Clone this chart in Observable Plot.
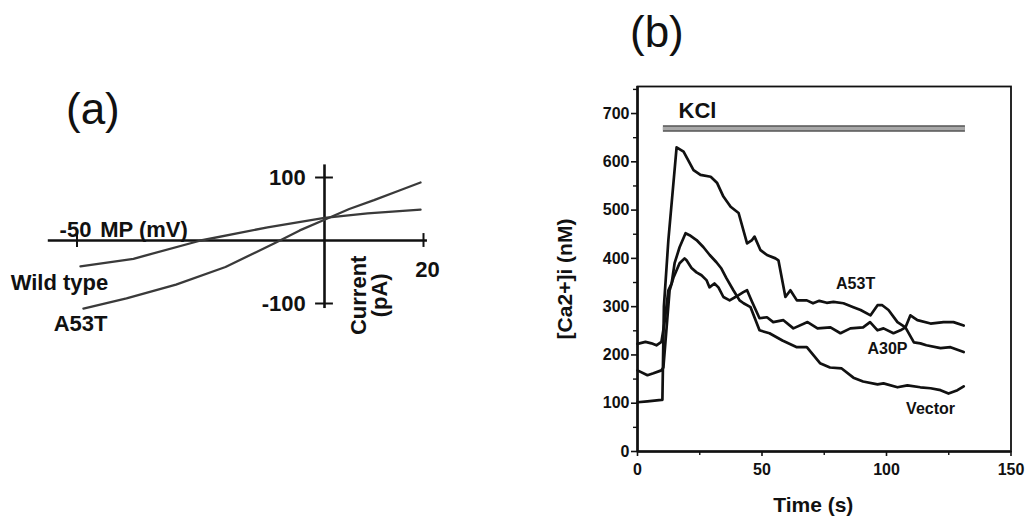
<!DOCTYPE html>
<html><head><meta charset="utf-8">
<script src="https://cdn.jsdelivr.net/npm/d3@7"></script>
<script src="https://cdn.jsdelivr.net/npm/@observablehq/plot@0.6"></script>
<style>
body{margin:0;background:#fff;}
#wrap{position:relative;width:1028px;height:517px;overflow:hidden;background:#fff;font-family:"Liberation Sans",Arial,Helvetica,sans-serif;}
.panel{position:absolute;top:0;}
.tag{position:absolute;font-size:44px;font-weight:normal;color:#111;line-height:1;white-space:nowrap;}
</style></head><body>
<div id="wrap">
  <div class="tag" style="left:66px;top:87px">(a)</div>
  <div class="tag" style="left:630px;top:10px">(b)</div>
  <div id="pa" class="panel" style="left:0"></div>
  <div id="pb" class="panel" style="left:530px"></div>
</div>
<script>
// ---------- Panel (a): current–voltage relation ----------
const mpWildType      = [-49.3, -38.6, -25, -11.5, 0, 8.7, 19.4];
const currentWildType = [-41, -29, 0, 21, 36, 43, 49];
const mpA53T          = [-48.7, -40, -30, -20, -10, -5, 0, 5, 10, 15, 19.4];
const currentA53T     = [-108, -92, -70, -42, -4, 16, 33, 50, 64, 79, 92];
const mpTicks      = [-50, 20];
const currentTicks = [-100, 100];

// ---------- Panel (b): [Ca2+]i time course ----------
const timeA53T = [0, 4, 9.6, 10.0, 10.6, 12.4, 15.7, 18.5, 22.5, 25.3, 29.4, 32, 34.5, 37.4, 40.6, 44, 46, 47, 49.4, 52, 55.4, 56.6, 59.4, 61.4, 64, 68, 70.5, 73, 76, 78.7, 82.7, 86.7, 89.6, 93.6, 96.4, 98.3, 100.8, 104.4, 107.6, 111, 113.6, 116, 121.7, 125.7, 131];
const caA53T   = [102, 104, 107, 107, 300, 438, 630, 621, 583, 573, 569, 556, 528, 507, 494, 431, 438, 445, 417, 407, 400, 396, 320, 334, 313, 313, 307, 312, 308, 310, 307, 299, 293, 282, 303, 303, 293, 268, 257, 226, 224, 220, 214, 216, 206];
const timeA30P = [0, 4, 6.4, 9.6, 10.4, 11.6, 12.9, 14.5, 16.9, 18.9, 19.7, 21.7, 23.7, 25.7, 27.7, 28.9, 30.9, 32.5, 34.5, 37, 40, 42.5, 44, 46, 49, 52, 54.5, 58.6, 62.6, 68.3, 72.3, 77.5, 81.5, 85.5, 90.6, 93.4, 96.4, 98.8, 102.8, 105.6, 107.6, 109.6, 112.4, 117.7, 122.9, 126.9, 131];
const caA30P   = [168, 158, 162, 168, 174, 251, 334, 361, 390, 400, 396, 380, 371, 365, 355, 340, 348, 340, 320, 313, 322, 330, 334, 310, 276, 278, 268, 272, 255, 268, 255, 257, 245, 255, 257, 268, 251, 255, 245, 251, 257, 282, 272, 265, 268, 268, 261];
const timeVector = [0, 3.2, 5.6, 7.6, 9.6, 10.8, 12.4, 13.7, 14.9, 16.9, 19.3, 20.9, 23.7, 26.5, 29, 31.7, 33.7, 35.7, 38.5, 41, 42.6, 45.4, 49, 53, 58.2, 64, 68, 73.3, 77.3, 82, 86.7, 90.6, 96.4, 98.8, 104.4, 108.4, 113.6, 117.7, 121.7, 124.9, 128.5, 131];
const caVector   = [223, 227, 224, 220, 227, 265, 334, 348, 390, 423, 452, 448, 438, 423, 407, 392, 379, 359, 334, 313, 307, 299, 251, 245, 230, 216, 216, 183, 174, 172, 153, 145, 139, 141, 133, 137, 133, 131, 127, 120, 127, 135];
const caTicks      = [0, 100, 200, 300, 400, 500, 600, 700];
const caMinorTicks = [50, 150, 250, 350, 450, 550, 650, 750];
const timeTicks      = [0, 50, 100, 150];
const timeMinorTicks = [25, 75, 125];
const kclWindow = [10.4, 131.7];
const kclLevel  = 669;

const FONT = '"Liberation Sans", Arial, Helvetica, sans-serif';
const zip = (xs, ys, name) => xs.map((x, i) => ({x, y: ys[i], name}));

const ivData = [
  ...zip(mpWildType, currentWildType, "Wild type"),
  ...zip(mpA53T, currentA53T, "A53T")
];
const caData = [
  ...zip(timeA53T, caA53T, "A53T"),
  ...zip(timeA30P, caA30P, "A30P"),
  ...zip(timeVector, caVector, "Vector")
];

const bold = {fontWeight: "bold", fill: "#111"};

const plotA = Plot.plot({
  width: 530, height: 517,
  marginLeft: 76.5, marginRight: 107, marginTop: 177, marginBottom: 214,
  x: {domain: [-50, 20], axis: null},
  y: {domain: [-100, 100], axis: null},
  style: {background: "transparent", overflow: "visible", fontFamily: FONT},
  marks: [
    Plot.ruleY([0], {x1: -55.8, x2: 20.8, stroke: "#111", strokeWidth: 2.6}),
    Plot.ruleX([0], {y1: -108, y2: 120, stroke: "#111", strokeWidth: 2.6}),
    Plot.ruleX(mpTicks, {y1: -11, y2: 11, stroke: "#111", strokeWidth: 2}),
    Plot.ruleY(currentTicks, {x1: -1.8, x2: 1.8, stroke: "#111", strokeWidth: 2}),
    Plot.line(ivData, {x: "x", y: "y", z: "name", stroke: "#3a3a3a", strokeWidth: 2.3}),
    Plot.text(currentTicks, {x: -3.8, y: d => d, text: d => String(d), textAnchor: "end", fontSize: 22, ...bold}),
    Plot.text([mpTicks[0]], {x: d => d - 0.3, y: 16, text: d => String(d), fontSize: 22, ...bold}),
    Plot.text(["MP (mV)"], {x: -45.3, y: 16, textAnchor: "start", fontSize: 22, ...bold}),
    Plot.text([mpTicks[1]], {x: d => d + 0.8, y: -46, text: d => String(d), fontSize: 22, ...bold}),
    Plot.text(["Current"], {x: 6.9, y: -87, rotate: -90, fontSize: 22, ...bold}),
    Plot.text(["(pA)"], {x: 11.3, y: -87, rotate: -90, fontSize: 22, ...bold}),
    Plot.text(["Wild type"], {x: -63.4, y: -68, textAnchor: "start", fontSize: 22, ...bold}),
    Plot.text(["A53T"], {x: -54.7, y: -133, textAnchor: "start", fontSize: 22, ...bold})
  ]
});
document.getElementById("pa").appendChild(plotA);

const plotB = Plot.plot({
  width: 498, height: 517,
  marginLeft: 107, marginRight: 17.5, marginTop: 86, marginBottom: 66,
  x: {domain: [0, 150]},
  y: {domain: [0, 756]},
  style: {background: "transparent", overflow: "visible", fontFamily: FONT},
  marks: [
    Plot.frame({stroke: "#111", strokeWidth: 1.8}),
    Plot.ruleX([0], {stroke: "#111", strokeWidth: 2.6}),
    Plot.ruleY([0], {stroke: "#111", strokeWidth: 2.6}),
    Plot.axisY({ticks: caTicks, tickSize: 6, tickPadding: 2, fontSize: 16, fontWeight: "bold", label: null, stroke: "#111", strokeWidth: 1.6, color: "#111"}),
    Plot.axisY({ticks: caMinorTicks, tickSize: 4, text: null, label: null, stroke: "#111", strokeWidth: 1.4}),
    Plot.axisX({ticks: timeTicks, tickSize: 5, tickPadding: 7, fontSize: 16, fontWeight: "bold", label: null, stroke: "#111", strokeWidth: 1.6, color: "#111"}),
    Plot.axisX({ticks: timeMinorTicks, tickSize: 4, text: null, label: null, stroke: "#111", strokeWidth: 1.4}),
    Plot.ruleY([kclLevel], {x1: kclWindow[0], x2: kclWindow[1], stroke: "#555", strokeWidth: 6.5}),
    Plot.ruleY([kclLevel], {x1: kclWindow[0], x2: kclWindow[1], stroke: "#a8a8a8", strokeWidth: 3.5}),
    Plot.line(caData, {x: "x", y: "y", z: "name", stroke: "#111", strokeWidth: 2.7, strokeLinejoin: "round"}),
    Plot.text(["KCl"], {x: 24.1, y: 706, fontSize: 22, ...bold}),
    Plot.text(["A53T"], {x: 87.6, y: 348, fontSize: 16, ...bold}),
    Plot.text(["A30P"], {x: 100.4, y: 213, fontSize: 16, ...bold}),
    Plot.text(["Vector"], {x: 117.7, y: 89, fontSize: 16, ...bold}),
    Plot.text(["Time (s)"], {frameAnchor: "bottom", lineAnchor: "middle", dx: -11, dy: 54, fontSize: 21, ...bold}),
    Plot.text(["[Ca2+]i (nM)"], {frameAnchor: "left", textAnchor: "middle", lineAnchor: "middle", rotate: -90, dx: -72, dy: 10, fontSize: 21, ...bold})
  ]
});
document.getElementById("pb").appendChild(plotB);
</script>
</body></html>
